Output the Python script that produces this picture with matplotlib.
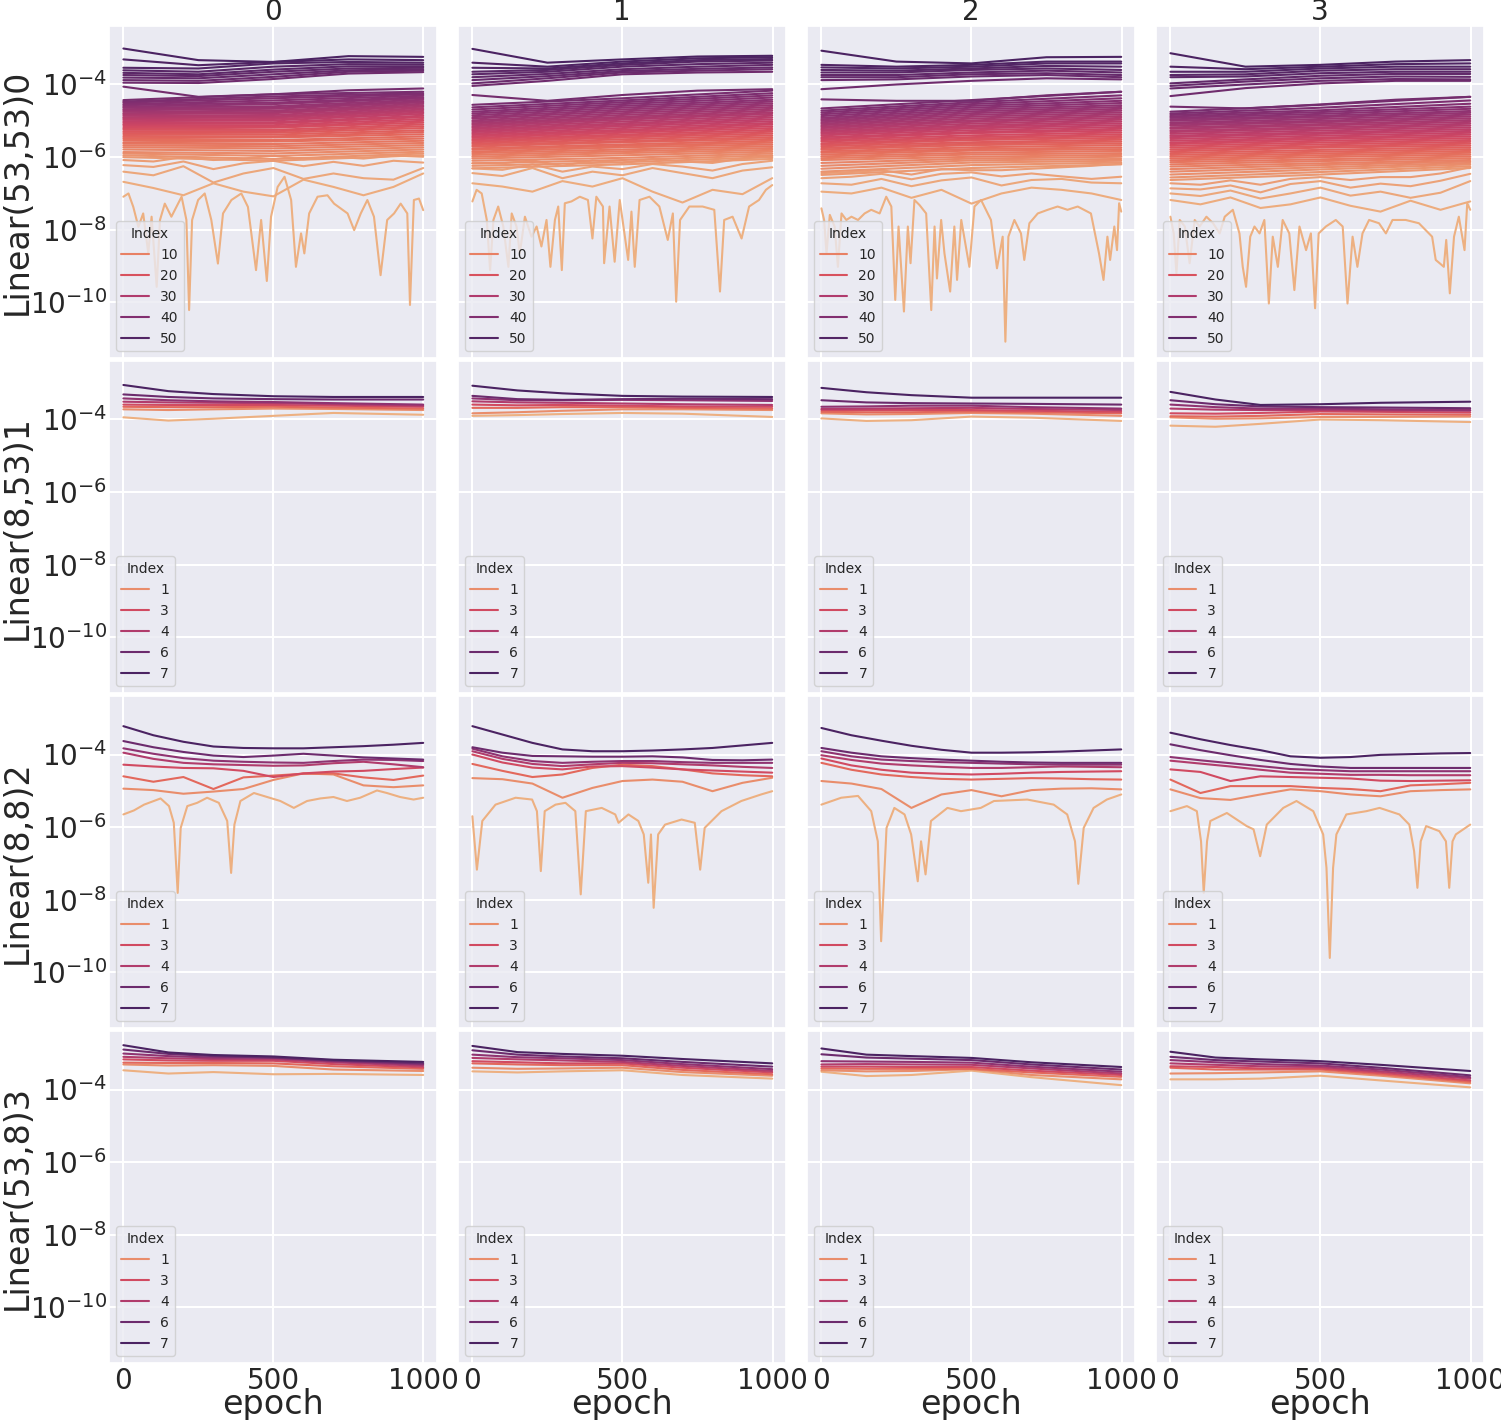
import numpy as np
import matplotlib
matplotlib.use("Agg")
import matplotlib.pyplot as plt
import seaborn as sns
from matplotlib.lines import Line2D
from matplotlib.colors import Normalize
from matplotlib.ticker import NullLocator

# ---- data (log10 of the plotted value) ----
col_titles = ["0", "1", "2", "3"]
row_titles = ["Linear(53,53)0", "Linear(8,53)1", "Linear(8,8)2", "Linear(53,8)3"]

GRID6 = [0, 150, 300, 500, 700, 999]
GRID11 = [0, 100, 200, 300, 400, 500, 600, 700, 800, 900, 999]
TOP_EPOCHS = [0, 250, 500, 750, 999]
BAND_EPOCHS = [0, 500, 999]

# Linear(53,53)0 : index 0 (lowest, noisy) as (epoch, value) pairs
r0_zero_ep_c0 = [0, 17, 33, 50, 66, 83, 94, 111, 122, 138, 160, 194, 210, 219, 229, 249, 271, 293, 315, 332,
                 360, 393, 415, 442, 459, 478, 492, 514, 537, 559, 575, 592, 603, 619, 647, 680, 702, 747,
                 769, 791, 813, 835, 857, 879, 902, 924, 946, 955, 968, 985, 999]
r0_zero_c0 = [-7.09, -7.00, -7.37, -7.92, -7.55, -8.65, -7.64, -9.57, -7.73, -7.28, -7.64, -7.09, -7.73, -10.21,
              -7.73, -7.18, -7.00, -7.73, -8.93, -7.55, -7.18, -7.00, -7.37, -9.11, -7.73, -9.41, -7.64, -6.82,
              -6.54, -7.18, -9.02, -8.10, -8.65, -7.55, -7.09, -7.05, -7.28, -7.55, -8.01, -7.55, -7.18, -7.64,
              -9.25, -7.73, -7.55, -7.28, -7.55, -10.07, -7.18, -7.14, -7.46]
r0_zero_ep_c1 = [0, 14, 31, 48, 59, 70, 86, 103, 120, 131, 147, 158, 175, 197, 214, 230, 247, 260, 275, 286,
                 298, 308, 330, 358, 385, 400, 413, 435, 439, 457, 474, 491, 519, 530, 541, 557, 590, 623,
                 651, 668, 679, 692, 723, 767, 806, 825, 839, 867, 897, 922, 955, 978, 999]
r0_zero_c1 = [-7.22, -6.90, -7.00, -7.73, -9.11, -7.73, -7.36, -7.91, -9.02, -7.55, -7.91, -8.65, -7.64, -8.19,
              -7.91, -8.46, -7.73, -9.02, -7.73, -7.36, -9.11, -7.27, -7.22, -7.09, -7.18, -8.24, -7.09, -7.36,
              -8.92, -7.36, -8.88, -7.18, -8.83, -7.50, -9.02, -7.18, -7.09, -7.36, -8.28, -7.55, -9.98, -7.73,
              -7.36, -7.36, -7.45, -9.70, -7.73, -7.64, -8.24, -7.36, -7.18, -6.90, -6.77]
r0_zero_ep_c2 = [0, 9, 17, 28, 44, 55, 67, 83, 100, 122, 144, 166, 194, 216, 233, 246, 257, 275, 288, 297,
                 310, 327, 349, 366, 377, 385, 399, 410, 429, 443, 452, 466, 493, 510, 532, 565, 585, 604,
                 613, 623, 643, 665, 676, 693, 721, 754, 787, 820, 854, 898, 925, 940, 953, 962, 976, 985,
                 992, 999]
r0_zero_c2 = [-7.41, -7.73, -8.65, -7.59, -7.91, -9.02, -7.55, -7.73, -7.64, -7.73, -7.55, -7.45, -7.55, -7.09,
              -7.36, -9.93, -7.91, -10.25, -7.91, -8.92, -7.18, -7.32, -7.55, -10.21, -7.91, -9.34, -7.73,
              -8.65, -9.70, -7.91, -9.38, -7.73, -9.02, -7.36, -7.18, -7.73, -9.06, -8.19, -11.08, -8.19,
              -7.73, -8.10, -8.83, -7.82, -7.55, -7.45, -7.36, -7.45, -7.36, -7.55, -8.65, -9.38, -8.19,
              -8.83, -7.91, -8.56, -7.27, -7.50]
r0_zero_ep_c3 = [0, 11, 20, 31, 48, 64, 81, 97, 120, 142, 164, 181, 208, 230, 241, 252, 266, 280, 297, 313,
                 328, 341, 358, 374, 396, 413, 430, 452, 468, 482, 494, 518, 551, 574, 590, 607, 623, 640,
                 662, 695, 718, 740, 784, 828, 872, 884, 897, 911, 919, 931, 945, 961, 980, 989, 999]
r0_zero_c3 = [-7.64, -8.10, -9.20, -7.73, -7.91, -8.92, -7.73, -7.91, -7.64, -7.82, -8.10, -7.64, -7.45, -8.10,
              -9.02, -9.57, -8.19, -7.91, -8.10, -7.73, -10.03, -8.19, -9.02, -7.73, -8.10, -9.66, -7.91,
              -8.56, -8.10, -10.16, -8.10, -7.91, -7.73, -7.91, -10.03, -8.19, -9.02, -8.10, -7.73, -7.82,
              -8.10, -7.73, -7.73, -7.82, -8.19, -8.83, -8.92, -9.02, -8.28, -9.75, -8.19, -7.64, -8.56,
              -7.27, -7.45]

# Linear(53,53)0 : indices 1..4 on GRID11
r0_low_c0 = [[-6.68, -6.85, -7.05, -6.72, -6.95, -7.08, -6.62, -6.82, -7.05, -6.82, -6.45],
             [-6.40, -6.50, -6.25, -6.70, -6.45, -6.30, -6.60, -6.45, -6.58, -6.62, -6.30],
             [-6.22, -6.27, -6.12, -6.33, -6.17, -6.10, -6.25, -6.13, -6.24, -6.10, -6.15],
             [-6.08, -6.12, -6.00, -6.08, -6.04, -5.96, -6.06, -5.99, -6.04, -5.96, -5.99]]
r0_low_c1 = [[-6.72, -6.81, -6.95, -6.66, -6.81, -6.58, -6.95, -7.25, -6.90, -7.02, -6.58],
             [-6.44, -6.52, -6.30, -6.58, -6.40, -6.50, -6.30, -6.44, -6.58, -6.37, -6.28],
             [-6.31, -6.35, -6.20, -6.40, -6.26, -6.33, -6.19, -6.26, -6.37, -6.19, -6.10],
             [-6.17, -6.17, -6.09, -6.24, -6.09, -6.16, -6.05, -6.12, -6.16, -6.04, -5.96]]
r0_low_c2 = [[-6.95, -7.00, -6.84, -7.12, -6.90, -7.28, -7.00, -6.84, -6.90, -7.00, -7.18],
             [-6.72, -6.76, -6.60, -6.80, -6.64, -6.56, -6.78, -6.63, -6.60, -6.70, -6.72],
             [-6.58, -6.54, -6.46, -6.61, -6.46, -6.42, -6.53, -6.45, -6.53, -6.60, -6.54],
             [-6.44, -6.41, -6.36, -6.48, -6.33, -6.36, -6.36, -6.32, -6.28, -6.24, -6.18]]
r0_low_c3 = [[-7.18, -7.30, -7.11, -7.40, -7.30, -7.11, -7.34, -7.50, -7.20, -7.45, -7.22],
             [-7.00, -7.07, -6.92, -7.14, -7.00, -6.84, -7.06, -6.95, -7.12, -6.98, -6.66],
             [-6.86, -6.89, -6.78, -6.97, -6.74, -6.66, -6.84, -6.73, -6.80, -6.65, -6.46],
             [-6.72, -6.76, -6.64, -6.76, -6.60, -6.55, -6.63, -6.55, -6.55, -6.45, -6.28]]

# Linear(53,53)0 : indices 5..42 at BAND_EPOCHS (start, middle, end)
r0_band_start_c0 = [-6.00, -5.95, -5.90, -5.86, -5.79, -5.73, -5.68, -5.63, -5.59, -5.53, -5.48, -5.44, -5.39,
                    -5.34, -5.30, -5.25, -5.21, -5.17, -5.12, -5.09, -5.05, -5.01, -4.97, -4.93, -4.90, -4.86,
                    -4.82, -4.79, -4.75, -4.71, -4.68, -4.64, -4.61, -4.57, -4.54, -4.50, -4.47, -4.43]
r0_band_mid_c0 = [-6.10, -6.05, -5.97, -5.90, -5.83, -5.76, -5.70, -5.64, -5.57, -5.53, -5.46, -5.43, -5.38,
                  -5.33, -5.29, -5.25, -5.19, -5.16, -5.12, -5.07, -5.04, -4.99, -4.95, -4.91, -4.88, -4.84,
                  -4.79, -4.76, -4.72, -4.67, -4.64, -4.60, -4.54, -4.50, -4.44, -4.38, -4.33, -4.27]
r0_band_end_c0 = [-5.95, -5.90, -5.85, -5.79, -5.73, -5.67, -5.61, -5.55, -5.49, -5.43, -5.37, -5.31, -5.26,
                  -5.20, -5.15, -5.10, -5.05, -5.00, -4.95, -4.90, -4.86, -4.81, -4.77, -4.73, -4.69, -4.65,
                  -4.61, -4.57, -4.53, -4.49, -4.46, -4.42, -4.38, -4.35, -4.31, -4.27, -4.24, -4.20]
r0_band_start_c1 = [-6.31, -6.24, -6.17, -6.10, -6.04, -5.99, -5.94, -5.89, -5.85, -5.80, -5.76, -5.71, -5.67,
                    -5.63, -5.59, -5.55, -5.51, -5.47, -5.43, -5.39, -5.35, -5.31, -5.27, -5.23, -5.19, -5.15,
                    -5.11, -5.07, -5.03, -4.99, -4.94, -4.90, -4.85, -4.80, -4.75, -4.69, -4.63, -4.56]
r0_band_mid_c1 = [-6.20, -6.14, -6.08, -6.02, -5.95, -5.89, -5.84, -5.79, -5.73, -5.69, -5.65, -5.59, -5.56,
                  -5.51, -5.46, -5.42, -5.38, -5.33, -5.29, -5.25, -5.20, -5.15, -5.11, -5.07, -5.02, -4.97,
                  -4.93, -4.89, -4.84, -4.79, -4.74, -4.69, -4.64, -4.59, -4.54, -4.49, -4.44, -4.38]
r0_band_end_c1 = [-6.05, -6.00, -5.95, -5.90, -5.85, -5.80, -5.75, -5.70, -5.65, -5.60, -5.55, -5.50, -5.45,
                  -5.40, -5.35, -5.30, -5.25, -5.20, -5.15, -5.10, -5.06, -5.01, -4.96, -4.91, -4.86, -4.81,
                  -4.77, -4.72, -4.67, -4.62, -4.57, -4.52, -4.47, -4.42, -4.36, -4.30, -4.24, -4.17]
r0_band_start_c2 = [-6.49, -6.40, -6.32, -6.24, -6.16, -6.08, -6.03, -5.98, -5.93, -5.88, -5.84, -5.79, -5.75,
                    -5.70, -5.66, -5.62, -5.57, -5.53, -5.49, -5.45, -5.40, -5.36, -5.32, -5.28, -5.24, -5.20,
                    -5.16, -5.12, -5.08, -5.04, -5.00, -4.96, -4.92, -4.87, -4.82, -4.77, -4.72, -4.66]
r0_band_mid_c2 = [-6.30, -6.22, -6.15, -6.09, -6.04, -5.99, -5.93, -5.88, -5.82, -5.78, -5.73, -5.67, -5.63,
                  -5.59, -5.53, -5.49, -5.45, -5.40, -5.34, -5.31, -5.26, -5.21, -5.17, -5.13, -5.08, -5.03,
                  -4.99, -4.94, -4.89, -4.84, -4.79, -4.74, -4.69, -4.64, -4.59, -4.54, -4.49, -4.43]
r0_band_end_c2 = [-6.20, -6.15, -6.10, -6.05, -5.99, -5.94, -5.89, -5.83, -5.78, -5.73, -5.67, -5.62, -5.57,
                  -5.52, -5.47, -5.42, -5.37, -5.32, -5.27, -5.22, -5.17, -5.12, -5.07, -5.02, -4.97, -4.92,
                  -4.87, -4.82, -4.77, -4.72, -4.67, -4.62, -4.57, -4.51, -4.45, -4.38, -4.30, -4.20]
r0_band_start_c3 = [-6.63, -6.56, -6.48, -6.40, -6.33, -6.26, -6.20, -6.14, -6.09, -6.04, -5.99, -5.94, -5.89,
                    -5.84, -5.79, -5.74, -5.69, -5.64, -5.60, -5.55, -5.50, -5.45, -5.41, -5.36, -5.31, -5.27,
                    -5.22, -5.18, -5.13, -5.09, -5.05, -5.00, -4.96, -4.92, -4.88, -4.84, -4.80, -4.75]
r0_band_mid_c3 = [-6.48, -6.41, -6.34, -6.28, -6.22, -6.17, -6.11, -6.06, -6.00, -5.95, -5.90, -5.85, -5.80,
                  -5.74, -5.70, -5.65, -5.60, -5.55, -5.50, -5.46, -5.41, -5.36, -5.32, -5.27, -5.22, -5.18,
                  -5.13, -5.09, -5.04, -5.00, -4.95, -4.90, -4.86, -4.81, -4.76, -4.71, -4.64, -4.56]
r0_band_end_c3 = [-6.30, -6.25, -6.20, -6.16, -6.12, -6.08, -6.03, -5.98, -5.93, -5.88, -5.83, -5.78, -5.73,
                  -5.68, -5.63, -5.58, -5.53, -5.48, -5.43, -5.38, -5.33, -5.28, -5.23, -5.18, -5.13, -5.08,
                  -5.03, -4.98, -4.93, -4.88, -4.83, -4.78, -4.73, -4.67, -4.61, -4.53, -4.44, -4.34]

# Linear(53,53)0 : indices 43..52 at TOP_EPOCHS
r0_top_c0 = [[-4.06, -4.34, -4.27, -4.16, -4.11], [-3.95, -3.96, -3.85, -3.70, -3.66],
             [-3.88, -3.90, -3.79, -3.65, -3.62], [-3.81, -3.83, -3.72, -3.61, -3.58],
             [-3.74, -3.77, -3.65, -3.56, -3.54], [-3.68, -3.72, -3.59, -3.50, -3.50],
             [-3.61, -3.65, -3.51, -3.44, -3.45], [-3.54, -3.56, -3.42, -3.38, -3.40],
             [-3.31, -3.47, -3.38, -3.31, -3.33], [-3.01, -3.33, -3.38, -3.22, -3.24]]
r0_top_c1 = [[-4.29, -4.45, -4.29, -4.17, -4.13], [-4.04, -3.90, -3.72, -3.67, -3.65],
             [-3.97, -3.83, -3.67, -3.62, -3.58], [-3.88, -3.77, -3.63, -3.57, -3.53],
             [-3.80, -3.71, -3.58, -3.51, -3.46], [-3.72, -3.65, -3.51, -3.44, -3.40],
             [-3.65, -3.60, -3.46, -3.37, -3.34], [-3.54, -3.56, -3.42, -3.33, -3.30],
             [-3.40, -3.51, -3.37, -3.28, -3.25], [-3.02, -3.40, -3.31, -3.23, -3.21]]
r0_top_c2 = [[-4.41, -4.45, -4.45, -4.30, -4.20], [-4.13, -4.00, -3.90, -3.83, -3.86],
             [-3.88, -3.86, -3.78, -3.74, -3.80], [-3.80, -3.80, -3.72, -3.69, -3.74],
             [-3.74, -3.74, -3.67, -3.62, -3.67], [-3.67, -3.67, -3.60, -3.56, -3.60],
             [-3.60, -3.62, -3.56, -3.49, -3.51], [-3.53, -3.56, -3.51, -3.42, -3.42],
             [-3.46, -3.51, -3.46, -3.37, -3.37], [-3.07, -3.37, -3.42, -3.25, -3.24]]
r0_top_c3 = [[-4.61, -4.66, -4.55, -4.42, -4.34], [-4.32, -4.10, -3.97, -3.90, -3.90],
             [-4.11, -4.00, -3.90, -3.85, -3.86], [-4.04, -3.92, -3.83, -3.78, -3.79],
             [-3.97, -3.86, -3.76, -3.71, -3.71], [-3.80, -3.78, -3.69, -3.65, -3.65],
             [-3.74, -3.72, -3.62, -3.58, -3.58], [-3.65, -3.65, -3.56, -3.51, -3.51],
             [-3.51, -3.58, -3.51, -3.44, -3.42], [-3.14, -3.51, -3.46, -3.37, -3.33]]

# Linear(8,53)1 : indices 0..7 on GRID6
r1_c0 = [[-3.94, -4.03, -3.98, -3.90, -3.82, -3.87], [-3.72, -3.74, -3.72, -3.70, -3.71, -3.74],
         [-3.65, -3.66, -3.66, -3.65, -3.67, -3.70], [-3.59, -3.60, -3.60, -3.60, -3.62, -3.65],
         [-3.51, -3.53, -3.54, -3.55, -3.58, -3.62], [-3.42, -3.47, -3.50, -3.52, -3.55, -3.59],
         [-3.31, -3.38, -3.42, -3.44, -3.45, -3.45], [-3.05, -3.22, -3.30, -3.36, -3.38, -3.38]]
r1_c1 = [[-3.90, -3.88, -3.85, -3.82, -3.84, -3.93], [-3.83, -3.80, -3.76, -3.72, -3.72, -3.74],
         [-3.68, -3.68, -3.66, -3.66, -3.68, -3.70], [-3.59, -3.61, -3.60, -3.62, -3.64, -3.65],
         [-3.50, -3.53, -3.54, -3.56, -3.58, -3.60], [-3.42, -3.47, -3.47, -3.46, -3.47, -3.49],
         [-3.35, -3.44, -3.46, -3.44, -3.43, -3.44], [-3.07, -3.20, -3.28, -3.35, -3.37, -3.38]]
r1_c2 = [[-3.97, -4.04, -4.02, -3.92, -3.95, -4.04], [-3.83, -3.86, -3.85, -3.82, -3.84, -3.90],
         [-3.79, -3.80, -3.80, -3.78, -3.80, -3.83], [-3.74, -3.74, -3.74, -3.74, -3.76, -3.79],
         [-3.71, -3.70, -3.69, -3.68, -3.71, -3.74], [-3.65, -3.64, -3.62, -3.62, -3.66, -3.70],
         [-3.47, -3.53, -3.55, -3.56, -3.57, -3.59], [-3.13, -3.25, -3.33, -3.40, -3.40, -3.40]]
r1_c3 = [[-4.17, -4.20, -4.12, -4.00, -4.02, -4.07], [-3.94, -3.98, -3.97, -3.93, -3.93, -3.92],
         [-3.91, -3.92, -3.90, -3.85, -3.86, -3.87], [-3.83, -3.84, -3.82, -3.78, -3.79, -3.81],
         [-3.70, -3.73, -3.74, -3.74, -3.75, -3.76], [-3.59, -3.66, -3.70, -3.70, -3.72, -3.74],
         [-3.47, -3.58, -3.64, -3.66, -3.67, -3.69], [-3.24, -3.45, -3.60, -3.58, -3.54, -3.51]]

# Linear(8,8)2 : index 0 as (epoch, value) pairs
r2_zero_ep_c0 = [0, 35, 69, 124, 152, 168, 181, 191, 213, 246, 279, 318, 346, 359, 370, 390, 435, 479, 523,
                 568, 612, 656, 700, 745, 789, 845, 878, 922, 967, 999]
r2_zero_c0 = [-5.65, -5.54, -5.38, -5.21, -5.42, -5.88, -7.81, -6.02, -5.42, -5.33, -5.19, -5.33, -5.83, -7.26,
              -5.93, -5.28, -5.06, -5.17, -5.28, -5.47, -5.28, -5.21, -5.17, -5.28, -5.19, -4.99, -5.06, -5.17,
              -5.24, -5.19]
r2_zero_ep_c1 = [0, 15, 33, 77, 144, 199, 215, 228, 241, 277, 310, 343, 361, 378, 431, 476, 487, 520, 553, 571,
                 586, 595, 604, 619, 642, 697, 741, 759, 774, 830, 896, 962, 999]
r2_zero_c1 = [-5.70, -7.17, -5.83, -5.38, -5.19, -5.24, -5.56, -7.21, -5.56, -5.38, -5.33, -5.56, -7.85, -5.56,
              -5.47, -5.65, -5.88, -5.65, -5.83, -6.20, -7.53, -6.20, -8.22, -6.20, -5.93, -5.79, -5.88, -7.17,
              -6.02, -5.56, -5.28, -5.10, -5.01]
r2_zero_ep_c2 = [0, 66, 122, 166, 188, 199, 217, 243, 277, 299, 321, 332, 347, 365, 420, 465, 531, 575, 686,
                 774, 819, 845, 856, 874, 907, 951, 999]
r2_zero_c2 = [-5.38, -5.19, -5.14, -5.56, -6.39, -9.14, -6.02, -5.47, -5.65, -6.20, -7.49, -6.39, -7.30, -5.83,
              -5.47, -5.56, -5.47, -5.28, -5.24, -5.38, -5.65, -6.39, -7.56, -6.02, -5.47, -5.24, -5.10]
r2_zero_ep_c3 = [0, 55, 88, 102, 111, 122, 133, 188, 254, 277, 299, 321, 376, 420, 476, 509, 520, 531, 542, 553,
                 586, 653, 697, 763, 796, 812, 823, 834, 852, 896, 918, 929, 940, 951, 999]
r2_zero_c3 = [-5.56, -5.42, -5.56, -6.39, -7.81, -6.39, -5.83, -5.61, -5.97, -6.06, -6.80, -5.93, -5.47, -5.28,
              -5.56, -6.20, -7.12, -9.60, -7.12, -6.20, -5.65, -5.56, -5.47, -5.65, -5.93, -6.66, -7.67, -6.39,
              -5.97, -6.11, -6.39, -7.67, -6.39, -6.20, -5.93]

# Linear(8,8)2 : indices 1..7 on GRID11
r2_c0 = [[-4.94, -4.98, -5.08, -5.02, -4.95, -4.70, -4.52, -4.55, -4.85, -4.90, -4.85],
         [-4.60, -4.75, -4.62, -4.95, -4.63, -4.58, -4.53, -4.52, -4.63, -4.70, -4.58],
         [-4.28, -4.33, -4.37, -4.38, -4.45, -4.62, -4.52, -4.47, -4.45, -4.40, -4.36],
         [-3.95, -4.12, -4.23, -4.27, -4.29, -4.31, -4.30, -4.24, -4.20, -4.27, -4.35],
         [-3.83, -3.98, -4.10, -4.17, -4.20, -4.22, -4.23, -4.18, -4.14, -4.15, -4.18],
         [-3.63, -3.80, -3.93, -4.03, -4.07, -4.03, -3.98, -4.03, -4.08, -4.11, -4.14],
         [-3.22, -3.47, -3.65, -3.78, -3.82, -3.83, -3.83, -3.80, -3.77, -3.73, -3.68]]
r2_c1 = [[-4.65, -4.68, -4.80, -5.19, -4.92, -4.73, -4.69, -4.75, -5.01, -4.78, -4.64],
         [-4.26, -4.45, -4.62, -4.55, -4.37, -4.28, -4.32, -4.41, -4.52, -4.57, -4.60],
         [-4.00, -4.22, -4.36, -4.41, -4.33, -4.32, -4.36, -4.41, -4.44, -4.47, -4.50],
         [-3.91, -4.12, -4.26, -4.32, -4.27, -4.23, -4.24, -4.27, -4.30, -4.34, -4.37],
         [-3.84, -4.05, -4.18, -4.23, -4.20, -4.18, -4.18, -4.21, -4.23, -4.23, -4.23],
         [-3.80, -3.95, -4.04, -4.05, -4.06, -4.06, -4.05, -4.08, -4.15, -4.16, -4.14],
         [-3.22, -3.45, -3.68, -3.86, -3.91, -3.91, -3.89, -3.86, -3.82, -3.75, -3.68]]
r2_c2 = [[-4.73, -4.80, -4.95, -5.47, -5.10, -4.98, -5.15, -4.98, -4.94, -4.93, -4.96],
         [-4.23, -4.42, -4.55, -4.62, -4.67, -4.69, -4.67, -4.65, -4.66, -4.68, -4.69],
         [-4.11, -4.30, -4.42, -4.50, -4.53, -4.55, -4.53, -4.50, -4.48, -4.47, -4.46],
         [-4.02, -4.15, -4.25, -4.30, -4.34, -4.37, -4.37, -4.35, -4.33, -4.34, -4.35],
         [-3.91, -4.05, -4.14, -4.18, -4.21, -4.23, -4.25, -4.27, -4.28, -4.28, -4.28],
         [-3.82, -3.95, -4.05, -4.10, -4.14, -4.17, -4.20, -4.22, -4.23, -4.23, -4.23],
         [-3.27, -3.47, -3.62, -3.76, -3.87, -3.95, -3.95, -3.94, -3.92, -3.89, -3.86]]
r2_c3 = [[-4.96, -5.20, -5.25, -5.10, -4.96, -5.01, -5.10, -5.15, -5.01, -4.98, -4.96],
         [-4.69, -5.06, -4.87, -4.87, -4.87, -4.92, -4.95, -5.01, -4.85, -4.82, -4.78],
         [-4.41, -4.48, -4.73, -4.60, -4.62, -4.64, -4.66, -4.72, -4.73, -4.72, -4.71],
         [-4.17, -4.25, -4.33, -4.42, -4.50, -4.53, -4.56, -4.56, -4.57, -4.57, -4.57],
         [-4.07, -4.16, -4.24, -4.32, -4.40, -4.43, -4.46, -4.46, -4.46, -4.46, -4.46],
         [-3.72, -3.88, -4.02, -4.15, -4.26, -4.33, -4.37, -4.37, -4.37, -4.37, -4.37],
         [-3.40, -3.58, -3.74, -3.88, -4.05, -4.09, -4.07, -4.01, -3.99, -3.97, -3.96]]

# Linear(53,8)3 : indices 0..7 on GRID6
r3_c0 = [[-3.47, -3.56, -3.52, -3.58, -3.57, -3.60], [-3.31, -3.34, -3.33, -3.35, -3.45, -3.49],
         [-3.26, -3.27, -3.27, -3.28, -3.36, -3.43], [-3.17, -3.20, -3.21, -3.21, -3.30, -3.39],
         [-3.10, -3.14, -3.16, -3.17, -3.25, -3.35], [-3.01, -3.08, -3.12, -3.13, -3.22, -3.31],
         [-2.90, -3.02, -3.08, -3.12, -3.20, -3.28], [-2.78, -2.98, -3.05, -3.09, -3.18, -3.24]]
r3_c1 = [[-3.50, -3.53, -3.50, -3.47, -3.60, -3.70], [-3.40, -3.43, -3.42, -3.40, -3.52, -3.62],
         [-3.28, -3.31, -3.33, -3.33, -3.46, -3.58], [-3.22, -3.25, -3.28, -3.28, -3.40, -3.53],
         [-3.13, -3.17, -3.20, -3.24, -3.35, -3.49], [-3.04, -3.11, -3.14, -3.19, -3.30, -3.44],
         [-2.92, -3.04, -3.09, -3.14, -3.24, -3.37], [-2.80, -2.97, -3.02, -3.07, -3.16, -3.28]]
r3_c2 = [[-3.51, -3.63, -3.60, -3.48, -3.66, -3.88], [-3.47, -3.50, -3.49, -3.44, -3.60, -3.72],
         [-3.42, -3.43, -3.43, -3.43, -3.53, -3.65], [-3.37, -3.37, -3.38, -3.38, -3.48, -3.60],
         [-3.31, -3.30, -3.31, -3.32, -3.42, -3.56], [-3.22, -3.23, -3.24, -3.26, -3.37, -3.51],
         [-3.03, -3.12, -3.15, -3.19, -3.31, -3.45], [-2.87, -3.04, -3.08, -3.13, -3.25, -3.38]]
r3_c3 = [[-3.72, -3.72, -3.70, -3.62, -3.75, -3.94], [-3.56, -3.55, -3.53, -3.50, -3.62, -3.83],
         [-3.40, -3.45, -3.45, -3.45, -3.58, -3.79], [-3.36, -3.38, -3.42, -3.42, -3.54, -3.75],
         [-3.28, -3.32, -3.36, -3.38, -3.50, -3.70], [-3.19, -3.25, -3.30, -3.34, -3.45, -3.66],
         [-3.10, -3.19, -3.23, -3.28, -3.40, -3.61], [-2.96, -3.12, -3.17, -3.22, -3.32, -3.49]]

legend_big = [10, 20, 30, 40, 50]
legend_small = [1, 3, 4, 6, 7]

# ---- drawing ----
sns.set_theme(style="darkgrid")
plt.rcParams['font.family'] = ['DejaVu Sans']

cmap = sns.color_palette("flare", as_cmap=True)
norm_big = Normalize(0, 52)
norm_small = Normalize(0, 7)
LW = 1.5

fig, axes = plt.subplots(4, 4, figsize=(15.01, 14.2), dpi=100, sharex=True, sharey=True)
fig.subplots_adjust(left=0.0726, right=0.9887, top=0.9817, bottom=0.0401, wspace=0.064, hspace=0.009)


def line(ax, x, logv, color):
    ax.plot(x, 10.0 ** np.asarray(logv), color=color, lw=LW)


r0_zero_ep = [r0_zero_ep_c0, r0_zero_ep_c1, r0_zero_ep_c2, r0_zero_ep_c3]
r0_zero = [r0_zero_c0, r0_zero_c1, r0_zero_c2, r0_zero_c3]
r0_low = [r0_low_c0, r0_low_c1, r0_low_c2, r0_low_c3]
r0_bs = [r0_band_start_c0, r0_band_start_c1, r0_band_start_c2, r0_band_start_c3]
r0_bm = [r0_band_mid_c0, r0_band_mid_c1, r0_band_mid_c2, r0_band_mid_c3]
r0_be = [r0_band_end_c0, r0_band_end_c1, r0_band_end_c2, r0_band_end_c3]
r0_top = [r0_top_c0, r0_top_c1, r0_top_c2, r0_top_c3]
r1 = [r1_c0, r1_c1, r1_c2, r1_c3]
r2 = [r2_c0, r2_c1, r2_c2, r2_c3]
r2_zero_ep = [r2_zero_ep_c0, r2_zero_ep_c1, r2_zero_ep_c2, r2_zero_ep_c3]
r2_zero = [r2_zero_c0, r2_zero_c1, r2_zero_c2, r2_zero_c3]
r3 = [r3_c0, r3_c1, r3_c2, r3_c3]

for c in range(4):
    # row 0
    ax = axes[0, c]
    line(ax, r0_zero_ep[c], r0_zero[c], cmap(norm_big(0)))
    for k, vals in enumerate(r0_low[c]):
        line(ax, GRID11, vals, cmap(norm_big(1 + k)))
    for k, (s, m, e) in enumerate(zip(r0_bs[c], r0_bm[c], r0_be[c])):
        line(ax, BAND_EPOCHS, [s, m, e], cmap(norm_big(5 + k)))
    for k, vals in enumerate(r0_top[c]):
        line(ax, TOP_EPOCHS, vals, cmap(norm_big(43 + k)))
    # row 1
    for k, vals in enumerate(r1[c]):
        line(axes[1, c], GRID6, vals, cmap(norm_small(k)))
    # row 2
    line(axes[2, c], r2_zero_ep[c], r2_zero[c], cmap(norm_small(0)))
    for k, vals in enumerate(r2[c]):
        line(axes[2, c], GRID11, vals, cmap(norm_small(1 + k)))
    # row 3
    for k, vals in enumerate(r3[c]):
        line(axes[3, c], GRID6, vals, cmap(norm_small(k)))

for r in range(4):
    for c in range(4):
        ax = axes[r, c]
        if r == 0:
            vals, nrm = legend_big, norm_big
        else:
            vals, nrm = legend_small, norm_small
        handles = [Line2D([], [], color=cmap(nrm(v)), lw=LW) for v in vals]
        ax.legend(handles, [str(v) for v in vals], title="Index", loc="lower left",
                  fontsize=10, title_fontsize=10)
        ax.tick_params(axis="x", labelsize=20, length=0, pad=2.9)
        ax.tick_params(axis="y", labelsize=20, length=0, pad=1.5)
        ax.grid(True, color="white", lw=1.5)
        if r == 0:
            ax.set_title(col_titles[c], fontsize=20, pad=1.5)
        if c == 0:
            ax.set_ylabel(row_titles[r], fontsize=24)
            ax.yaxis.set_label_coords(-0.228, 0.5)
        if r == 3:
            ax.set_xlabel("epoch", fontsize=24)
            ax.xaxis.set_label_coords(0.5, -0.075)

ax0 = axes[0, 0]
ax0.set_yscale("log")
ax0.set_ylim(10 ** -11.53, 10 ** -2.39)
ax0.set_yticks([1e-10, 1e-8, 1e-6, 1e-4])
ax0.yaxis.set_minor_locator(NullLocator())
ax0.set_xlim(-48, 1045)
ax0.set_xticks([0, 500, 1000])

fig.savefig("out.png", dpi=100)
